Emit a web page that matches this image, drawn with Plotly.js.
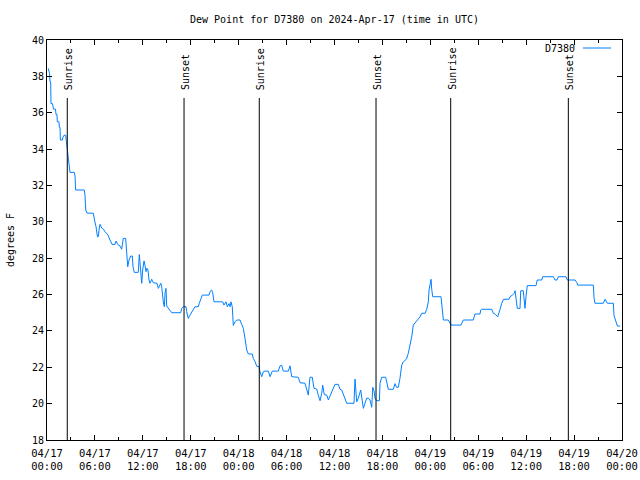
<!DOCTYPE html>
<html>
<head>
<meta charset="utf-8">
<script src="https://cdn.plot.ly/plotly-3.0.1.min.js"></script>
<style>html,body{margin:0;padding:0;background:#fff;}#chart{width:640px;height:480px;}</style>
</head>
<body>
<div id="chart"></div>
<script>
// hours after 2024-04-17 00:00 UTC
const hours = [0.16,0.31,0.38,0.46,0.50,0.69,0.81,1.06,1.13,1.25,1.29,1.50,1.54,1.63,1.67,1.92,2.00,2.13,2.34,2.38,
2.54,2.67,2.75,2.88,3.42,3.51,3.59,4.67,4.76,4.85,5.01,5.80,5.95,6.14,6.32,6.42,6.55,6.64,6.85,7.08,
7.26,7.64,7.89,8.14,8.52,8.64,8.85,9.14,9.35,9.55,9.85,9.98,10.11,10.27,10.48,10.68,10.77,10.93,11.43,11.56,
11.68,11.77,11.86,11.98,12.15,12.27,12.40,12.52,12.65,12.77,12.90,13.11,13.31,13.78,13.94,14.24,14.36,14.56,14.69,14.78,
14.90,14.99,15.19,15.40,15.62,16.74,16.87,17.07,17.41,17.49,17.69,17.91,18.12,18.28,18.53,18.95,19.07,19.28,19.45,20.29,
20.41,20.62,20.75,20.91,22.00,22.16,22.41,22.58,22.79,22.92,23.04,23.20,23.33,23.54,23.76,24.17,24.38,24.58,24.79,25.01,
25.21,25.71,25.83,26.05,26.26,26.55,26.67,26.89,27.09,27.30,27.71,27.93,28.21,28.96,29.18,29.39,29.59,30.22,30.43,30.64,
31.47,31.68,32.31,32.52,32.72,32.93,33.22,33.43,33.77,33.97,34.19,34.40,34.52,34.72,35.03,35.23,35.53,35.85,36.06,36.48,
36.69,36.90,37.53,38.44,38.57,38.78,38.98,39.28,39.48,39.61,39.82,40.03,40.24,40.45,40.66,40.79,40.95,41.07,41.29,41.62,
41.70,41.91,42.41,42.54,42.74,43.36,43.58,43.76,43.99,44.20,44.42,44.62,44.83,45.02,45.24,45.46,45.67,45.87,46.08,46.30,
46.50,46.71,46.92,47.34,47.55,47.75,47.84,47.96,48.09,48.17,48.30,49.34,49.43,49.55,49.63,50.25,50.38,50.59,51.84,52.00,
52.13,53.38,53.50,53.59,54.22,54.31,54.43,55.69,55.89,56.17,56.44,56.61,56.73,56.94,57.15,57.86,57.98,58.27,58.52,58.61,
58.73,58.89,59.23,59.32,59.64,59.77,59.85,59.98,60.14,61.23,61.39,61.95,62.07,63.40,63.61,63.86,64.02,64.99,65.15,66.12,
66.33,66.45,68.41,68.50,68.62,69.66,69.88,70.17,70.92,71.00,71.13,71.26,71.42,71.76];
const dewPoint = [38.44,38.17,37.7,37.7,36.5,36.5,36.2,36.2,35.9,35.9,35.5,35.5,35.2,35.2,34.5,34.5,34.65,34.76,34.76,34.5,
34.0,33.5,33.0,32.72,32.72,32.5,31.75,31.75,31.47,30.65,30.48,30.47,30.1,29.73,29.18,29.18,29.66,29.86,29.66,29.59,
29.46,29.27,29.0,28.76,28.76,28.94,28.76,28.67,28.49,29.09,29.09,28.0,27.53,27.9,28.12,28.12,27.53,27.22,27.22,28.2,
27.5,26.9,26.62,27.35,27.85,27.6,27.26,27.45,27.35,26.8,26.62,26.84,26.65,26.62,26.34,26.62,26.45,25.6,25.33,26.07,
26.34,25.37,25.24,25.15,25.0,25.0,25.24,25.33,25.33,25.06,24.69,24.87,25.06,25.15,25.33,25.33,25.52,25.79,25.97,25.97,
26.16,26.25,26.1,25.6,25.6,25.42,25.6,25.33,25.5,25.33,25.6,25.33,24.3,24.5,24.6,24.6,24.4,24.14,23.6,22.95,
22.73,22.73,22.49,22.31,22.05,22.05,21.76,21.48,21.76,21.79,21.79,21.48,21.79,21.79,22.08,22.1,21.79,21.79,22.08,21.48,
21.45,21.15,21.12,20.75,20.47,21.45,21.45,20.84,20.8,20.47,20.16,20.57,21.02,20.5,20.47,20.2,20.5,20.84,21.06,21.06,
20.79,20.75,20.02,20.02,21.35,20.1,20.3,20.75,20.02,19.74,20.02,20.3,20.3,20.2,19.8,20.9,20.7,20.3,20.16,20.16,
21.12,21.45,21.45,21.2,20.79,20.79,21.1,20.9,20.9,21.4,22.12,22.3,22.4,22.45,22.77,23.22,23.68,24.32,24.42,24.56,
24.62,24.77,24.97,24.97,25.19,25.6,26.25,26.62,26.84,26.3,25.88,25.88,25.52,24.97,24.6,24.6,24.5,24.32,24.32,24.45,
24.6,24.6,24.78,24.93,24.93,25.15,25.19,25.19,24.97,24.9,24.78,24.97,25.19,25.52,25.74,25.74,25.88,25.97,26.07,26.21,
25.9,25.24,25.24,26.21,26.21,25.5,25.24,25.88,26.49,26.49,26.8,26.8,26.98,26.98,26.8,26.8,26.98,26.98,26.8,26.8,
26.67,26.52,26.52,25.8,25.52,25.52,25.74,25.52,25.52,24.85,24.69,24.42,24.27,24.27];

// sun events (hours after start)
const sunHours = [2.54, 17.16, 26.58, 41.20, 50.55, 65.28];
const sunLabels = ['Sunrise','Sunset','Sunrise','Sunset','Sunrise','Sunset'];

const tickHours = [0,6,12,18,24,30,36,42,48,54,60,66,72];
const tickLabels = ['04/17<br>00:00','04/17<br>06:00','04/17<br>12:00','04/17<br>18:00',
  '04/18<br>00:00','04/18<br>06:00','04/18<br>12:00','04/18<br>18:00',
  '04/19<br>00:00','04/19<br>06:00','04/19<br>12:00','04/19<br>18:00','04/20<br>00:00'];
const yTicks = [18,20,22,24,26,28,30,32,34,36,38,40];
const seriesName = 'D7380';

const base = Date.UTC(2024,3,17,0,0,0);
const H = 3600000;
const toX = h => base + h*H;

const FONT = 'DejaVu Sans Mono, monospace';
const lineColor = 'rgb(0,128,255)';

const trace = {
  x: hours.map(toX), y: dewPoint, type: 'scatter', mode: 'lines',
  name: seriesName, line: {color: lineColor, width: 1}, showlegend: false,
  hoverinfo: 'skip'
};

const shapes = sunHours.map(h => ({
  type: 'line', xref: 'x', yref: 'paper', x0: toX(h), x1: toX(h), y0: 0, y1: 0.855,
  line: {color: 'black', width: 1}
}));
// legend sample line
shapes.push({type:'line', xref:'paper', yref:'paper', x0: 0.932, x1: 0.981, y0: 0.98, y1: 0.98,
  line:{color: lineColor, width: 1}});

const annotations = sunHours.map((h,i) => ({
  x: toX(h), xref: 'x', y: 0.87, yref: 'paper', text: sunLabels[i], textangle: -90,
  showarrow: false, xanchor: 'center', yanchor: 'bottom', xshift: 1,
  font: {family: FONT, size: 10, color: 'black'}
}));
annotations.push({x: 0.922, xref:'paper', y: 0.98, yref:'paper', text: seriesName, showarrow:false,
  xanchor:'right', yanchor:'middle', font:{family: FONT, size: 10, color:'black'}});

const layout = {
  width: 640, height: 480,
  margin: {l: 47, r: 18, t: 40, b: 40, pad: 0},
  paper_bgcolor: 'white', plot_bgcolor: 'white',
  font: {family: FONT, size: 10, color: 'black'},
  title: {text: 'Dew Point for D7380 on 2024-Apr-17 (time in UTC)', x: 0.5, xref: 'paper',
    y: 1 - 19/480, yref: 'container', yanchor: 'middle', font: {family: FONT, size: 10, color: 'black'}},
  xaxis: {
    type: 'date', range: [toX(0), toX(72)], tickmode: 'array',
    tickvals: tickHours.map(toX), ticktext: tickLabels,
    ticks: 'inside', ticklen: 5, tickcolor: 'black', tickwidth: 1, ticklabelstandoff: 3,
    minor: {dtick: 3*H, ticks: 'inside', ticklen: 3, tickcolor: 'black', showgrid: false},
    showline: true, linecolor: 'black', linewidth: 1, mirror: 'ticks',
    showgrid: false, zeroline: false, fixedrange: true,
    tickfont: {family: FONT, size: 10.5, color: 'black'}
  },
  yaxis: {
    range: [18, 40], tickmode: 'array', tickvals: yTicks,
    ticks: 'inside', ticklen: 5, tickcolor: 'black', tickwidth: 1,
    showline: true, linecolor: 'black', linewidth: 1, mirror: 'ticks',
    showgrid: false, zeroline: false, fixedrange: true,
    title: {text: 'degrees F', standoff: 15, font: {family: FONT, size: 10, color: 'black'}},
    tickfont: {family: FONT, size: 10, color: 'black'}
  },
  shapes: shapes, annotations: annotations
};

Plotly.newPlot('chart', [trace], layout, {staticPlot: true, displayModeBar: false});
</script>
</body>
</html>
